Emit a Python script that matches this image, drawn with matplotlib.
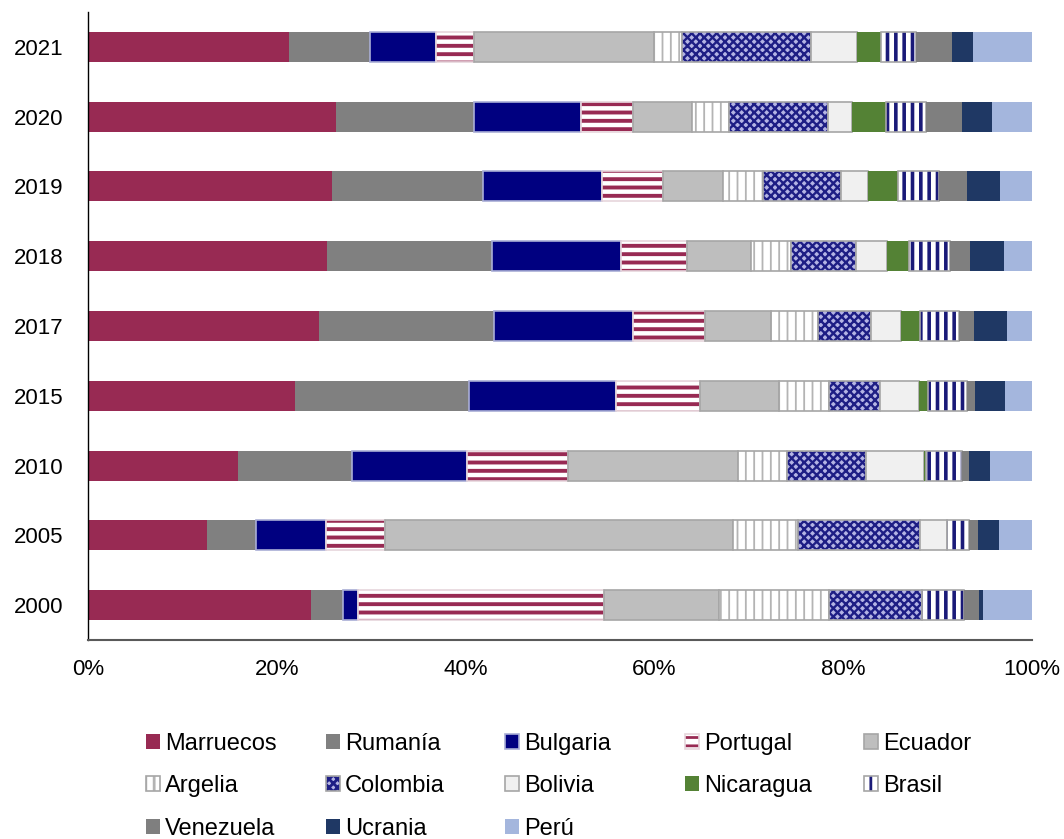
import matplotlib
matplotlib.use('Agg')
import matplotlib.pyplot as plt
import matplotlib.patches as mpatches
import numpy as np

plt.rcParams['font.family'] = ['Liberation Sans', 'DejaVu Sans']
plt.rcParams['hatch.linewidth'] = 2.0

# ---------------- data (percent of total, bottom row first) ----------------
years = ['2000', '2005', '2010', '2015', '2017', '2018', '2019', '2020', '2021']
countries = ['Marruecos', 'Rumanía', 'Bulgaria', 'Portugal', 'Ecuador', 'Argelia',
             'Colombia', 'Bolivia', 'Nicaragua', 'Brasil', 'Venezuela', 'Ucrania', 'Perú']

marruecos = [23.6, 12.6, 15.9, 21.9, 24.5, 25.3, 25.8, 26.3, 21.3]
rumania   = [3.4, 5.2, 12.1, 18.5, 18.5, 17.5, 16.0, 14.6, 8.6]
bulgaria  = [1.6, 7.4, 12.2, 15.5, 14.7, 13.7, 12.7, 11.3, 7.0]
portugal  = [26.1, 6.3, 10.6, 8.9, 7.7, 7.0, 6.4, 5.5, 4.0]
ecuador   = [12.1, 36.8, 18.1, 8.4, 7.0, 6.7, 6.4, 6.3, 19.1]
argelia   = [11.7, 6.9, 5.1, 5.3, 4.9, 4.3, 4.2, 3.9, 2.9]
colombia  = [9.8, 12.9, 8.4, 5.4, 5.6, 6.9, 8.3, 10.5, 13.7]
bolivia   = [0.1, 2.9, 6.2, 4.1, 3.2, 3.2, 2.8, 2.5, 4.9]
nicaragua = [0.0, 0.0, 0.2, 1.0, 2.0, 2.4, 3.2, 3.6, 2.5]
brasil    = [4.4, 2.3, 3.8, 4.1, 4.2, 4.3, 4.3, 4.3, 3.7]
venezuela = [1.6, 1.0, 0.7, 0.9, 1.6, 2.1, 3.0, 3.8, 3.8]
ucrania   = [0.4, 2.2, 2.3, 3.1, 3.5, 3.6, 3.5, 3.2, 2.3]
peru      = [5.2, 3.5, 4.4, 2.9, 2.6, 3.0, 3.4, 4.2, 6.2]

series = [marruecos, rumania, bulgaria, portugal, ecuador, argelia, colombia,
          bolivia, nicaragua, brasil, venezuela, ucrania, peru]

x_ticks = [0, 20, 40, 60, 80, 100]
x_labels = ['0%', '20%', '40%', '60%', '80%', '100%']

# ---------------- styles ----------------
GRAY_EDGE = '#A6A6A6'
styles = [
    dict(face='#982A53', hatch=None, hc=None, edge=None, hlw=None),            # Marruecos
    dict(face='#808080', hatch=None, hc=None, edge=None, hlw=None),            # Rumanía
    dict(face='#000080', hatch=None, hc=None, edge='#A9AED6', hlw=None),       # Bulgaria
    dict(face='#FFFFFF', hatch='--', hc='#982A53', edge='#E6D5DC', hlw=2.8),   # Portugal
    dict(face='#BEBEBE', hatch=None, hc=None, edge=GRAY_EDGE, hlw=None),       # Ecuador
    dict(face='#FFFFFF', hatch='||', hc='#B4B4B4', edge=GRAY_EDGE, hlw=1.3),   # Argelia
    dict(face='#B4B4E4', hatch='xxxx', hc='#1E1E85', edge=GRAY_EDGE, hlw=1.7), # Colombia
    dict(face='#F0F0F0', hatch=None, hc=None, edge=GRAY_EDGE, hlw=None),       # Bolivia
    dict(face='#548235', hatch=None, hc=None, edge=None, hlw=None),            # Nicaragua
    dict(face='#FFFFFF', hatch='||', hc='#1A1A78', edge=GRAY_EDGE, hlw=2.6),   # Brasil
    dict(face='#7F7F7F', hatch=None, hc=None, edge=None, hlw=None),            # Venezuela
    dict(face='#1F3864', hatch=None, hc=None, edge=None, hlw=None),            # Ucrania
    dict(face='#A4B6DD', hatch=None, hc=None, edge=None, hlw=None),            # Perú
]

W, H = 1064, 839
fig = plt.figure(figsize=(W / 100, H / 100), dpi=100)
ax = fig.add_axes([88 / W, 1 - 640 / H, (1032 - 88) / W, (640 - 12) / H])

ypos = np.arange(len(years))
bar_h = 0.43
left = np.zeros(len(years))
handles = []
for name, vals, st in zip(countries, series, styles):
    vals = np.array(vals, dtype=float)
    if st['hatch']:
        with plt.rc_context({'hatch.linewidth': st['hlw']}):
            ax.barh(ypos, vals, left=left, height=bar_h, color=st['face'],
                    edgecolor=st['hc'], hatch=st['hatch'], linewidth=0)
            fill_h = mpatches.Patch(facecolor=st['face'], edgecolor=st['hc'],
                                    hatch=st['hatch'], linewidth=0)
    else:
        ax.barh(ypos, vals, left=left, height=bar_h, color=st['face'], linewidth=0)
        fill_h = mpatches.Patch(facecolor=st['face'], linewidth=0)
    if st['edge']:
        ax.barh(ypos, vals, left=left, height=bar_h, fill=False,
                edgecolor=st['edge'], linewidth=1.2)
        out_h = mpatches.Patch(fill=False, edgecolor=st['edge'], linewidth=1.2)
        handles.append((fill_h, out_h))
    else:
        handles.append(fill_h)
    left += vals

ax.set_xlim(0, 100)
ax.set_ylim(-0.5, len(years) - 0.5)
ax.set_xticks(x_ticks)
ax.set_xticklabels(x_labels)
ax.set_yticks(ypos)
ax.set_yticklabels(years)
ax.tick_params(axis='both', length=0, labelsize=16, colors='#000000')
ax.tick_params(axis='y', pad=17.5)
ax.tick_params(axis='x', pad=14)
for s in ['top', 'right']:
    ax.spines[s].set_visible(False)
ax.spines['left'].set_color('#000000')
ax.spines['left'].set_linewidth(1.0)
ax.spines['bottom'].set_color('#595959')
ax.spines['bottom'].set_linewidth(1.5)

# legend: 5 columns, row-wise order
col_x = [146, 326, 505, 685, 864]
ncol = 5
for c in range(ncol):
    idx = list(range(c, len(countries), ncol))
    fig.legend([handles[i] for i in idx], [countries[i] for i in idx],
               loc='upper left', bbox_to_anchor=(col_x[c] / W, 1 - 733 / H),
               bbox_transform=fig.transFigure, frameon=False, borderpad=0,
               borderaxespad=0, handlelength=0.6, handleheight=0.6,
               handletextpad=0.2, labelspacing=0.86, fontsize=17)

fig.savefig('out.png', dpi=100)
